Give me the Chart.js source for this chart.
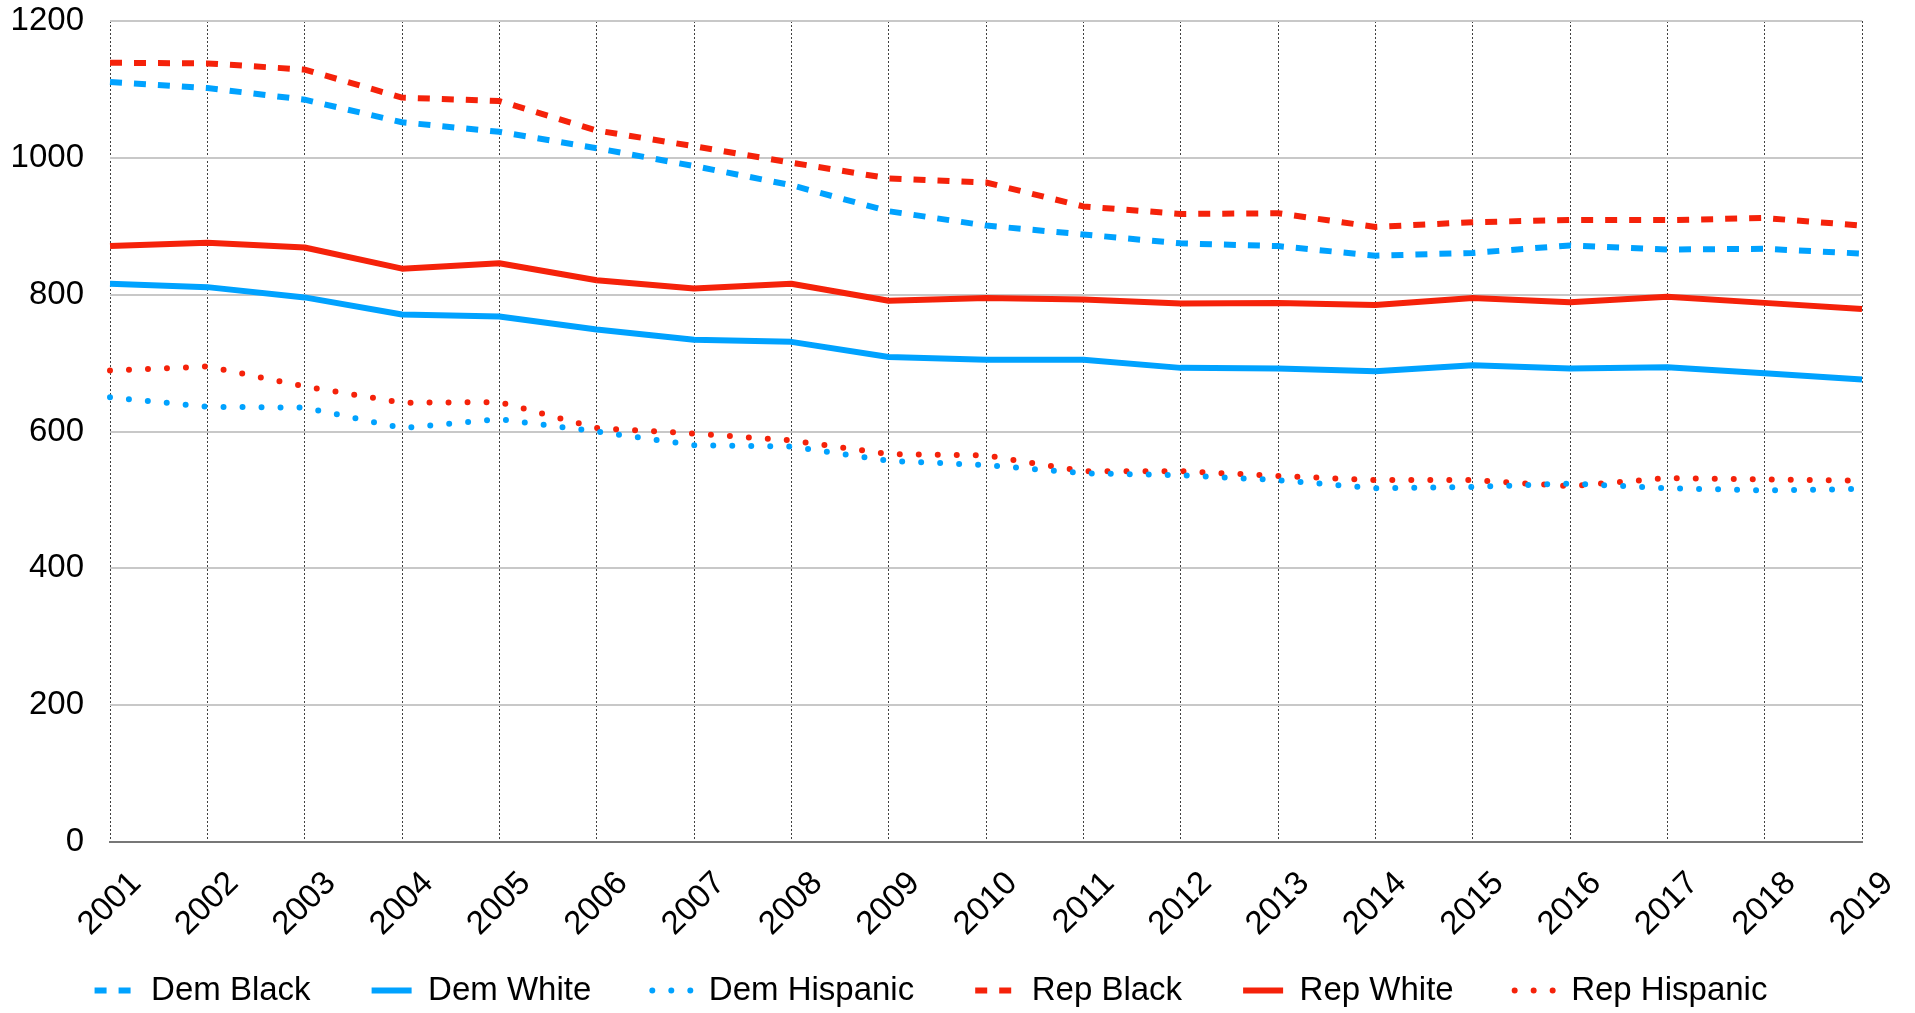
<!DOCTYPE html>
<html lang="en">
<head>
<meta charset="UTF-8">
<title>Dem / Rep by group</title>
<style>
  html, body { margin: 0; padding: 0; background: #fff; }
  #wrap { width: 1915px; height: 1013px; }
</style>
</head>
<body>
<div id="wrap">
  <canvas id="myChart" width="1915" height="1013"></canvas>
</div>

<script src="https://cdn.jsdelivr.net/npm/chart.js"></script>
<script>
  const years = ['2001', '2002', '2003', '2004', '2005', '2006', '2007', '2008', '2009', '2010',
                 '2011', '2012', '2013', '2014', '2015', '2016', '2017', '2018', '2019'];

  const demBlack    = [1111, 1102, 1085, 1052, 1038, 1014, 988, 960, 922, 901, 888, 875, 871, 857, 861, 872, 866, 867, 860];
  const demWhite    = [816, 811, 796, 771, 768, 749, 734, 731, 709, 705, 705, 693, 692, 688, 697, 692, 694, 685, 676];
  const demHispanic = [650, 636, 635, 605, 618, 600, 580, 578, 557, 551, 539, 536, 529, 517, 519, 524, 517, 514, 516];
  const repBlack    = [1139, 1138, 1129, 1088, 1083, 1040, 1017, 993, 970, 964, 929, 918, 919, 899, 906, 909, 909, 912, 901];
  const repWhite    = [871, 876, 869, 838, 846, 821, 809, 816, 791, 795, 793, 787, 788, 785, 795, 789, 797, 788, 779];
  const repHispanic = [689, 695, 666, 642, 643, 605, 597, 587, 567, 565, 542, 542, 535, 529, 529, 520, 532, 530, 528];

  const yTicks = [0, 200, 400, 600, 800, 1000, 1200];

  const BLUE = '#00a2ff';
  const RED = '#f5220a';
  const DASH = [12, 12];
  const DOTS = [0, 19];

  function series(label, data, color, dash, cap) {
    return {
      label: label,
      data: data,
      borderColor: color,
      backgroundColor: color,
      borderWidth: 6,
      borderDash: dash,
      borderCapStyle: cap,
      borderJoinStyle: 'round',
      pointRadius: 0,
      pointHoverRadius: 0,
      pointStyle: 'line',
      tension: 0,
      fill: false
    };
  }

  Chart.defaults.font.family = '"Liberation Sans", Arial, Helvetica, sans-serif';
  Chart.defaults.color = '#000';

  const ctx = document.getElementById('myChart');

  new Chart(ctx, {
    type: 'line',
    data: {
      labels: years,
      datasets: [
        series('Dem Black', demBlack, BLUE, DASH, 'butt'),
        series('Dem White', demWhite, BLUE, [], 'butt'),
        series('Dem Hispanic', demHispanic, BLUE, DOTS, 'round'),
        series('Rep Black', repBlack, RED, DASH, 'butt'),
        series('Rep White', repWhite, RED, [], 'butt'),
        series('Rep Hispanic', repHispanic, RED, DOTS, 'round')
      ]
    },
    options: {
      responsive: false,
      animation: false,
      devicePixelRatio: 1,
      layout: {
        padding: { top: 21, right: 53, left: 0, bottom: -4 }
      },
      scales: {
        x: {
          offset: false,
          grid: {
            color: 'rgba(0,0,0,0.75)',
            lineWidth: 1,
            drawTicks: false
          },
          border: {
            display: true,
            color: '#777',
            width: 2,
            dash: [2, 2]
          },
          ticks: {
            autoSkip: false,
            maxRotation: 45,
            minRotation: 45,
            padding: 22,
            labelOffset: 26,
            font: { size: 33 }
          },
          afterFit: function (scale) {
            scale.height = 71;
            scale.paddingLeft = 0;
            scale.paddingRight = 0;
            // rotated years hang below the axis box, don't clip them
            scale._computeLabelArea = function () { return undefined; };
          }
        },
        y: {
          min: 0,
          max: 1200,
          afterBuildTicks: function (scale) {
            scale.ticks = yTicks.map(v => ({ value: v }));
          },
          grid: {
            color: '#c8c8c8',
            lineWidth: 2,
            drawTicks: false
          },
          border: { display: false },
          ticks: {
            padding: 26,
            font: { size: 33 },
            callback: function (value) { return String(value); }
          },
          afterFit: function (scale) {
            scale.width = 110;
            scale.paddingTop = 0;
            scale.paddingBottom = 0;
          }
        }
      },
      plugins: {
        legend: {
          position: 'bottom',
          labels: {
            usePointStyle: true,
            pointStyleWidth: 40,
            padding: 61,
            font: { size: 33 },
            color: '#000',
            generateLabels: function (chart) {
              const items = Chart.defaults.plugins.legend.labels.generateLabels(chart);
              items.forEach(item => {
                const ds = chart.data.datasets[item.datasetIndex];
                item.lineDash = ds.borderDash;
                item.lineCap = ds.borderCapStyle;
                item.lineWidth = ds.borderWidth;
                item.strokeStyle = ds.borderColor;
              });
              return items;
            }
          }
        },
        tooltip: { enabled: false }
      }
    }
  });
</script>
</body>
</html>
